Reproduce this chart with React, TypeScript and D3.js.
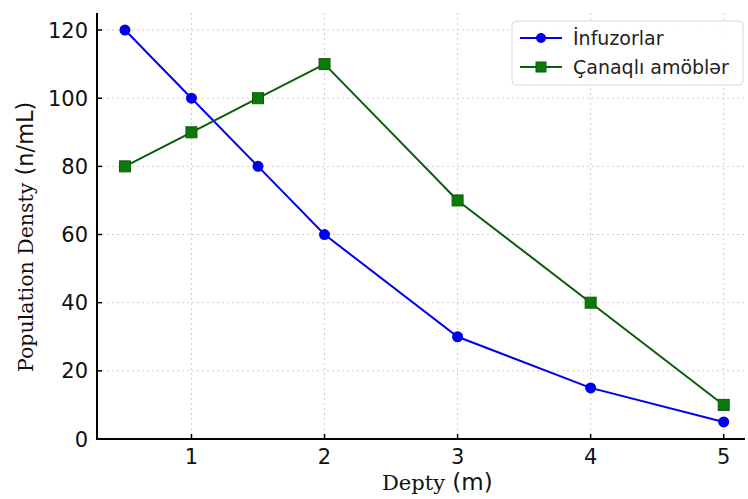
import React from "react";
import * as d3 from "d3";

const depths = [0.5, 1, 1.5, 2, 3, 4, 5];
const infuzorlar = [120, 100, 80, 60, 30, 15, 5];
const canaqli = [80, 90, 100, 110, 70, 40, 10];
const xTicks = [1, 2, 3, 4, 5];
const yTicks = [0, 20, 40, 60, 80, 100, 120];
const seriesNames = ["İnfuzorlar", "Çanaqlı amöblər"];

const W = 748;
const H = 499;
const left = 97;
const right = 745;
const top = 13;
const bottom = 439;

export default function App() {
  const x = d3.scaleLinear().domain([0.29, 5.16]).range([left, right]);
  const y = d3.scaleLinear().domain([0, 125]).range([bottom, top]);
  const line = d3
    .line<number>()
    .x((_, i) => x(depths[i]))
    .y((d) => y(d));

  const blue = "#0000ee";
  const green = "#0a5d0a";
  const greenFill = "#0b7a0b";
  const sans = "'DejaVu Sans', sans-serif";
  const serif = "'DejaVu Serif', 'Liberation Serif', serif";

  return (
    <svg
      width={W}
      height={H}
      style={{ position: "absolute", left: 0, top: 0, background: "#fff" }}
    >
      {/* grid */}
      {xTicks.map((t) => (
        <line
          key={"gx" + t}
          x1={x(t)}
          x2={x(t)}
          y1={top}
          y2={bottom}
          stroke="#d0d0d0"
          strokeWidth={1}
          strokeDasharray="2,3"
        />
      ))}
      {yTicks.map((t) => (
        <line
          key={"gy" + t}
          x1={left}
          x2={right}
          y1={y(t)}
          y2={y(t)}
          stroke="#d0d0d0"
          strokeWidth={1}
          strokeDasharray="2,3"
        />
      ))}

      {/* series */}
      <path d={line(infuzorlar) || ""} fill="none" stroke={blue} strokeWidth={2} />
      <path d={line(canaqli) || ""} fill="none" stroke={green} strokeWidth={2} />
      {infuzorlar.map((v, i) => (
        <circle key={"b" + i} cx={x(depths[i])} cy={y(v)} r={5.5} fill={blue} />
      ))}
      {canaqli.map((v, i) => (
        <rect
          key={"g" + i}
          x={x(depths[i]) - 5.5}
          y={y(v) - 5.5}
          width={11}
          height={11}
          fill={greenFill}
          stroke={green}
          strokeWidth={1}
        />
      ))}

      {/* spines */}
      <line x1={left} x2={left} y1={top} y2={bottom + 1} stroke="#000" strokeWidth={2} />
      <line x1={left - 1} x2={right} y1={bottom} y2={bottom} stroke="#000" strokeWidth={2} />

      {/* ticks */}
      {xTicks.map((t) => (
        <g key={"xt" + t}>
          <line x1={x(t)} x2={x(t)} y1={bottom} y2={bottom - 5} stroke="#000" strokeWidth={1.5} />
          <text
            x={x(t)}
            y={464}
            textAnchor="middle"
            fontFamily={sans}
            fontSize={21}
            fill="#111"
          >
            {t}
          </text>
        </g>
      ))}
      {yTicks.map((t) => (
        <g key={"yt" + t}>
          <line x1={left} x2={left + 5} y1={y(t)} y2={y(t)} stroke="#000" strokeWidth={1.5} />
          <text
            x={left - 9}
            y={y(t)}
            dy="0.36em"
            textAnchor="end"
            fontFamily={sans}
            fontSize={21}
            fill="#111"
          >
            {t}
          </text>
        </g>
      ))}

      {/* axis labels */}
      <text x={382} y={490} textAnchor="start" fontSize={23} fill="#111">
        <tspan fontFamily={serif} fontSize={21}>Depty</tspan>
        <tspan fontFamily={sans}> (m)</tspan>
      </text>
      <text
        transform="translate(33,372) rotate(-90)"
        textAnchor="start"
        fontSize={22.5}
        fill="#111"
      >
        <tspan fontFamily={serif} fontSize={20.5}>Population Densty</tspan>
        <tspan fontFamily={sans}>  (n/mL)</tspan>
      </text>

      {/* legend */}
      <g>
        <rect
          x={512}
          y={21}
          width={231}
          height={64}
          rx={4}
          fill="#fff"
          fillOpacity={0.9}
          stroke="#d8d8d8"
          strokeWidth={1}
        />
        <line x1={520} x2={562} y1={38} y2={38} stroke={blue} strokeWidth={2} />
        <circle cx={541} cy={38} r={5} fill={blue} />
        <text x={573} y={38} dy="0.36em" fontFamily={sans} fontSize={19} fill="#222">
          {seriesNames[0]}
        </text>
        <line x1={520} x2={562} y1={67} y2={67} stroke={green} strokeWidth={2} />
        <rect x={536} y={62} width={10} height={10} fill={greenFill} stroke={green} />
        <text x={573} y={67} dy="0.36em" fontFamily={sans} fontSize={19} fill="#222">
          {seriesNames[1]}
        </text>
      </g>
    </svg>
  );
}
